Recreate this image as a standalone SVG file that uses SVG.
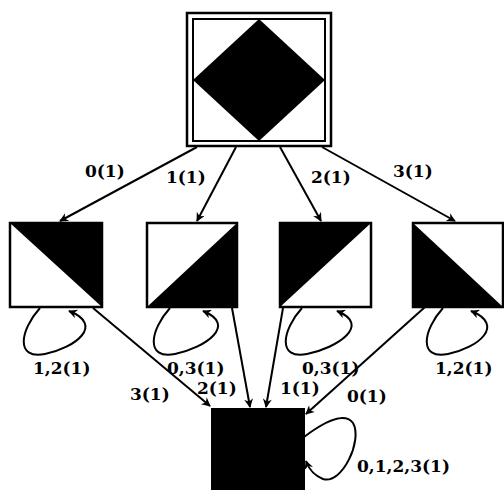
<svg xmlns="http://www.w3.org/2000/svg" width="504" height="490" viewBox="0 0 504 490">
<style>
.box{fill:#fff;stroke:#000;stroke-width:2.5}
.blk{fill:#000}
.e{fill:none;stroke:#000;stroke-width:2;marker-end:url(#ah)}
.lbl{font-family:"DejaVu Serif","Liberation Serif",serif;font-weight:bold;font-size:17px;fill:#000}
</style>
<defs>
<marker id="ah" viewBox="0 0 10 10" refX="9" refY="5" markerWidth="11" markerHeight="9" markerUnits="userSpaceOnUse" orient="auto">
<path d="M0,0 L10,5 L0,10 L3,5 z" fill="#000"/>
</marker>
</defs>
<rect width="504" height="490" fill="#fff"/>
<g id="top">
<rect x="187" y="13" width="144" height="133" class="box"/>
<rect x="193" y="19" width="132" height="122" fill="#fff" stroke="#000" stroke-width="2"/>
<polygon points="259,19 325,80 259,141 193,80" class="blk"/>
</g>
<g id="n0">
<rect x="10" y="223" width="92" height="84" class="box"/>
<polygon points="10,223 102,223 102,307" class="blk"/>
</g>
<g id="n1">
<rect x="147" y="223" width="90" height="84" class="box"/>
<polygon points="147,307 237,223 237,307" class="blk"/>
</g>
<g id="n2">
<rect x="280" y="223" width="91" height="84" class="box"/>
<polygon points="280,223 371,223 280,307" class="blk"/>
</g>
<g id="n3">
<rect x="413" y="223" width="90" height="84" class="box"/>
<polygon points="413,223 413,307 503,307" class="blk"/>
</g>
<g id="bottom">
<rect x="212" y="409" width="92" height="90" fill="#000" stroke="#000" stroke-width="2"/>
</g>
<g id="connectors">
<path d="M197,147 L60,221" class="e"/>
<path d="M236,147 L197,221" class="e"/>
<path d="M280,147 L321,221" class="e"/>
<path d="M322,147 L455,221" class="e"/>
<path d="M40,308 C20,330 15,360 45,354 C75,348 105,325 69,311" class="e"/>
<path d="M170,308 C150,330 145,360 175,354 C205,348 238,325 203,311" class="e"/>
<path d="M302,308 C282,330 277,360 307,354 C337,348 372,325 337,311" class="e"/>
<path d="M443,308 C423,330 418,360 448,354 C478,348 506,325 471,311" class="e"/>
<path d="M93,308 L210,406" class="e"/>
<path d="M232,308 L250,407" class="e"/>
<path d="M283,308 L266,407" class="e"/>
<path d="M425,307 L306,414" class="e"/>
<path d="M304,437 C320,425 343,410 353,423 C363,440 342,485 323,479 C313,475 309,469 306,461" class="e"/>
</g>
<g id="labels">
<text x="85" y="177" class="lbl">0(1)</text>
<text x="166" y="183" class="lbl">1(1)</text>
<text x="311" y="183" class="lbl">2(1)</text>
<text x="393" y="177" class="lbl">3(1)</text>
<text x="33" y="374" class="lbl">1,2(1)</text>
<text x="167" y="374" class="lbl">0,3(1)</text>
<text x="302" y="374" class="lbl">0,3(1)</text>
<text x="435" y="374" class="lbl">1,2(1)</text>
<text x="130" y="400" class="lbl">3(1)</text>
<text x="197" y="394" class="lbl">2(1)</text>
<text x="280" y="394" class="lbl">1(1)</text>
<text x="347" y="402" class="lbl">0(1)</text>
<text x="357" y="472" class="lbl">0,1,2,3(1)</text>
</g>
</svg>
